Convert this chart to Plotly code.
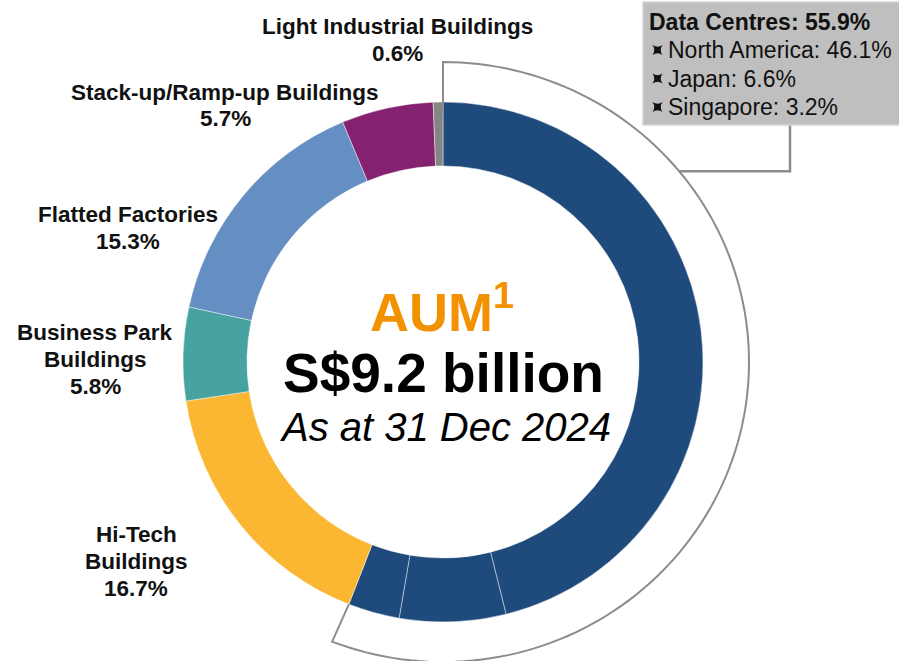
import math
import plotly.graph_objects as go

# ---------------- data ----------------
segments = ["North America", "Japan", "Singapore", "Hi-Tech Buildings",
            "Business Park Buildings", "Flatted Factories",
            "Stack-up/Ramp-up Buildings", "Light Industrial Buildings"]
shares = [46.1, 6.6, 3.2, 16.7, 5.8, 15.3, 5.7, 0.6]
colors = ["#1F4A7C", "#1F4A7C", "#1F4A7C", "#FBB731", "#47A39F",
          "#658FC2", "#84226F", "#858585"]

dc_regions = ["North America", "Japan", "Singapore"]
dc_shares = [46.1, 6.6, 3.2]
dc_total = 55.9

label_texts = [
    ["Light Industrial Buildings", "0.6%"],
    ["Stack-up/Ramp-up Buildings", "5.7%"],
    ["Flatted Factories", "15.3%"],
    ["Business Park", "Buildings", "5.8%"],
    ["Hi-Tech", "Buildings", "16.7%"],
]

# ---------------- layout constants ----------------
W, H = 899, 661
CX, CY = 443, 362
R_OUT = 260
HOLE = 0.754
ARC_RX, ARC_RY = 306, 300

FONT = "Liberation Sans, Arial, sans-serif"


def px(x):
    return x / W


def py(y):
    return 1 - y / H


fig = go.Figure()
fig.add_trace(go.Pie(
    labels=segments, values=shares, sort=False, direction="clockwise",
    rotation=0, hole=HOLE, textinfo="none", hoverinfo="label+percent",
    marker=dict(colors=colors, line=dict(color="rgba(255,255,255,0.55)", width=0.8)),
    domain=dict(x=[px(CX - R_OUT), px(CX + R_OUT)],
                y=[py(CY + R_OUT), py(CY - R_OUT)]),
    showlegend=False,
))

# ---------------- bracket around data centres ----------------
end_deg = dc_total / 100 * 360


def arc_pt(deg, rx, ry):
    a = math.radians(deg)
    return CX + rx * math.sin(a), CY - ry * math.cos(a)


pts = [arc_pt(0, 248, 248)]
n = 120
for i in range(n + 1):
    pts.append(arc_pt(end_deg * i / n, ARC_RX, ARC_RY))
pts.append(arc_pt(end_deg, R_OUT, R_OUT))
path = "M " + " L ".join(f"{px(a):.5f},{py(b):.5f}" for a, b in pts)
fig.add_shape(type="path", path=path, xref="paper", yref="paper",
              line=dict(color="#8C8C8C", width=2), layer="above")

# connector from arc to the box
BOX_X0, BOX_Y0, BOX_X1, BOX_Y1 = 643, 2, 905, 125
conn_deg = 50.5
cx0, cy0 = arc_pt(conn_deg, ARC_RX, ARC_RY)
conn_x = 790
cpath = (f"M {px(cx0):.5f},{py(cy0):.5f} L {px(conn_x):.5f},{py(cy0):.5f} "
         f"L {px(conn_x):.5f},{py(BOX_Y1):.5f}")
fig.add_shape(type="path", path=cpath, xref="paper", yref="paper",
              line=dict(color="#8C8C8C", width=2.5), layer="above")

# box
fig.add_shape(type="rect", xref="paper", yref="paper",
              x0=px(BOX_X0), x1=px(BOX_X1), y0=py(BOX_Y1), y1=py(BOX_Y0),
              fillcolor="#BFBFBF", line=dict(color="#D4D4D4", width=1.5),
              layer="above")

ann = []
ann.append(dict(x=px(647), y=py(22), xref="paper", yref="paper",
                text=f"<b>Data Centres: {dc_total}%</b>", showarrow=False,
                xanchor="left", yanchor="middle",
                font=dict(family=FONT, size=23, color="#111111")))
for i, (reg, val) in enumerate(zip(dc_regions, dc_shares)):
    yy = 50 + i * 28.5
    # concave-square bullet
    bx, by, s = 657.5, yy, 5.0
    bpath = (f"M {px(bx - s)},{py(by - s)} "
             f"Q {px(bx)},{py(by - s * 0.3)} {px(bx + s)},{py(by - s)} "
             f"Q {px(bx + s * 0.3)},{py(by)} {px(bx + s)},{py(by + s)} "
             f"Q {px(bx)},{py(by + s * 0.3)} {px(bx - s)},{py(by + s)} "
             f"Q {px(bx - s * 0.3)},{py(by)} {px(bx - s)},{py(by - s)} Z")
    fig.add_shape(type="path", path=bpath, xref="paper", yref="paper",
                  fillcolor="#111111", line=dict(width=0), layer="above")
    ann.append(dict(x=px(666), y=py(yy), xref="paper", yref="paper",
                    text=f"{reg}: {val}%", showarrow=False,
                    xanchor="left", yanchor="middle",
                    font=dict(family=FONT, size=23, color="#111111")))

# outside labels
label_pos = [(397, 26), (225, 92), (128, 214), (95, 332), (136, 534)]
for lines, (lx, ly) in zip(label_texts, label_pos):
    for j, t in enumerate(lines):
        ann.append(dict(x=px(lx), y=py(ly + j * 27), xref="paper", yref="paper",
                        text=f"<b>{t}</b>", showarrow=False,
                        xanchor="center", yanchor="middle",
                        font=dict(family=FONT, size=22.5, color="#111111")))

# centre text
ann.append(dict(x=px(442), y=py(308), xref="paper", yref="paper",
                text="<b>AUM<sup>1</sup></b>", showarrow=False,
                xanchor="center", yanchor="middle",
                font=dict(family=FONT, size=54, color="#F39200")))
ann.append(dict(x=px(443), y=py(373), xref="paper", yref="paper",
                text="<b>S$9.2 billion</b>", showarrow=False,
                xanchor="center", yanchor="middle",
                font=dict(family=FONT, size=55, color="#000000")))
ann.append(dict(x=px(445), y=py(427), xref="paper", yref="paper",
                text="<i>As at 31 Dec 2024</i>", showarrow=False,
                xanchor="center", yanchor="middle",
                font=dict(family=FONT, size=40, color="#000000")))

fig.update_layout(width=W, height=H, margin=dict(l=0, r=0, t=0, b=0),
                  paper_bgcolor="white", plot_bgcolor="white",
                  annotations=ann)
fig.write_html("out.html", config={"displayModeBar": False},
               post_script="document.body.style.margin='0';document.body.style.overflow='hidden';")
